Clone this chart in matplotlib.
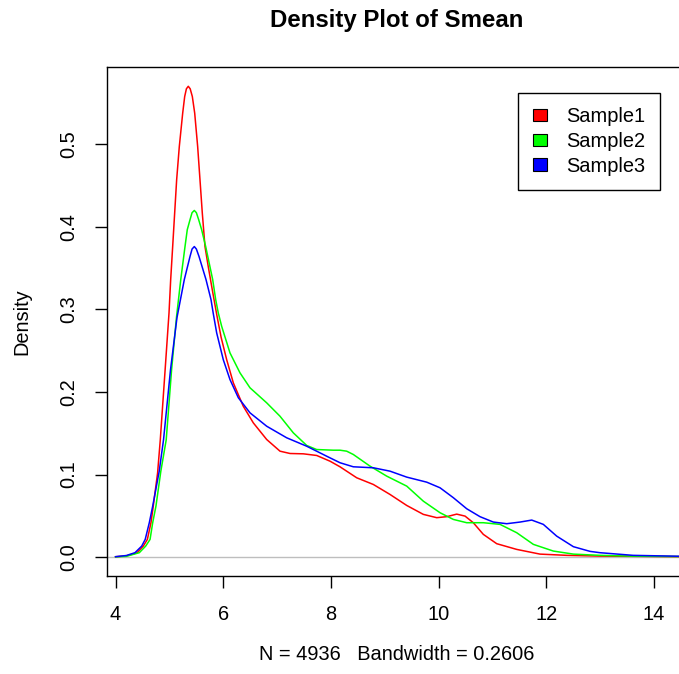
import matplotlib
matplotlib.use("Agg")
import matplotlib.pyplot as plt
from matplotlib.patches import Patch

plt.rcParams['font.family'] = ['Liberation Sans', 'DejaVu Sans']

# density curves
s1_x = [4.0, 4.2, 4.40, 4.515, 4.59, 4.657, 4.70, 4.78, 4.83, 4.92, 4.992, 5.023, 5.06,
        5.097, 5.134, 5.183, 5.246, 5.283, 5.315, 5.35, 5.385, 5.425, 5.469, 5.524,
        5.567, 5.610, 5.660, 5.72, 5.80, 5.88, 5.96, 6.063, 6.186, 6.371, 6.557, 6.806,
        7.053, 7.239, 7.486, 7.734, 7.981, 8.167, 8.477, 8.786, 9.096, 9.406, 9.714,
        9.963, 10.148, 10.334, 10.489, 10.642, 10.828, 11.077, 11.448, 11.88, 12.377,
        13.0, 14.7]
s1_y = [0.0005, 0.0015, 0.0054, 0.0134, 0.0215, 0.0417, 0.062, 0.102, 0.142, 0.227,
        0.2956, 0.336, 0.376, 0.4166, 0.457, 0.497, 0.5375, 0.5576, 0.567, 0.570,
        0.567, 0.5576, 0.5375, 0.497, 0.457, 0.4166, 0.376, 0.352, 0.322, 0.293,
        0.266, 0.239, 0.211, 0.1827, 0.1626, 0.1424, 0.1283, 0.1255, 0.1251, 0.1231,
        0.1162, 0.1094, 0.0961, 0.088, 0.0759, 0.0626, 0.0518, 0.0478, 0.049, 0.0521,
        0.0497, 0.0417, 0.0276, 0.0163, 0.0094, 0.0037, 0.0022, 0.0013, 0.0005]

s2_x = [4.0, 4.2, 4.44, 4.559, 4.64, 4.689, 4.75, 4.84, 4.94, 5.04, 5.13, 5.21, 5.289,
        5.331, 5.382, 5.42, 5.462, 5.50, 5.543, 5.598, 5.673, 5.803, 5.859, 5.907,
        5.970, 6.124, 6.310, 6.496, 6.806, 7.053, 7.300, 7.549, 7.734, 8.043, 8.167,
        8.291, 8.414, 8.724, 9.034, 9.406, 9.714, 10.024, 10.271, 10.52, 10.828,
        11.138, 11.448, 11.757, 12.128, 12.50, 12.995, 13.6, 14.7]
s2_y = [0.0004, 0.001, 0.0054, 0.0134, 0.0215, 0.0417, 0.062, 0.104, 0.142, 0.227,
        0.290, 0.336, 0.376, 0.3964, 0.4085, 0.417, 0.4197, 0.417, 0.4085, 0.3964,
        0.376, 0.336, 0.3117, 0.2956, 0.2794, 0.2473, 0.2231, 0.205, 0.1868, 0.1706,
        0.1505, 0.1352, 0.1303, 0.1295, 0.1295, 0.1283, 0.1243, 0.1102, 0.0981, 0.086,
        0.0678, 0.0538, 0.0457, 0.0417, 0.0417, 0.0397, 0.0296, 0.0155, 0.0074, 0.0037,
        0.0022, 0.0012, 0.0006]

s3_x = [4.0, 4.2, 4.36, 4.485, 4.55, 4.626, 4.69, 4.81, 4.89, 5.02, 5.14, 5.276, 5.382,
        5.42, 5.462, 5.50, 5.549, 5.679, 5.772, 5.812, 5.877, 6.0, 6.124, 6.279, 6.496,
        6.806, 7.177, 7.549, 7.920, 8.167, 8.414, 8.786, 9.096, 9.406, 9.777, 10.024,
        10.271, 10.52, 10.767, 11.014, 11.262, 11.51, 11.727, 11.942, 12.19, 12.50,
        12.81, 12.995, 13.61, 14.7]
s3_y = [0.0006, 0.002, 0.0054, 0.0134, 0.0215, 0.0417, 0.062, 0.104, 0.142, 0.227, 0.290,
        0.336, 0.364, 0.373, 0.376, 0.373, 0.364, 0.336, 0.3117, 0.2956, 0.2715, 0.239,
        0.215, 0.193, 0.1747, 0.1585, 0.1445, 0.1343, 0.1222, 0.1143, 0.1094, 0.1082,
        0.1041, 0.0969, 0.0908, 0.084, 0.072, 0.0586, 0.049, 0.0425, 0.0405, 0.0425,
        0.0449, 0.0397, 0.0255, 0.0127, 0.007, 0.0054, 0.0022, 0.0008]

labels = ['Sample1', 'Sample2', 'Sample3']
colors = ['#FF0000', '#00FF00', '#0000FF']
xticks = [4, 6, 8, 10, 12, 14]
yticks = [0.0, 0.1, 0.2, 0.3, 0.4, 0.5]

W, H = 679, 674
fig = plt.figure(figsize=(W / 100, H / 100), dpi=100)
# plot box runs off the right edge of the picture, as in the reference
ax = fig.add_axes([106.7 / W, (H - 576) / H, (687 - 106.7) / W, (576 - 67.3) / H])

ax.axhline(0, color='#BEBEBE', lw=1.0, zorder=1)
for xs, ys, c in zip([s1_x, s2_x, s3_x], [s1_y, s2_y, s3_y], colors):
    ax.plot(xs, ys, color=c, lw=1.1, zorder=2, solid_joinstyle='round')

ax.set_xlim(3.835, 14.61)
ax.set_ylim(-0.0228, 0.593)
ax.set_xticks(xticks)
ax.set_xticklabels([str(t) for t in xticks])
ax.set_yticks(yticks)
ax.set_yticklabels([f'{t:.1f}' for t in yticks], rotation=90, va='center')
ax.tick_params(direction='out', length=8.6, width=1, pad=12, labelsize=14.4, colors='black')
for sp in ax.spines.values():
    sp.set_linewidth(1)
    sp.set_color('black')

fig.text(397 / W, 1 - 20 / H, 'Density Plot of Smean', ha='center', va='center',
         fontsize=17.3, fontweight='bold')
fig.text(397 / W, 1 - 655 / H, 'N = 4936   Bandwidth = 0.2606', ha='center', va='center',
         fontsize=14.4)
fig.text(22 / W, 1 - 322 / H, 'Density', ha='center', va='center', rotation=90,
         fontsize=14.4)

handles = [Patch(facecolor=c, edgecolor='black', lw=0.8) for c in colors]
leg = ax.legend(handles, labels, loc='upper right',
                bbox_to_anchor=(660 / W, 1 - 92.7 / H), bbox_transform=fig.transFigure,
                borderaxespad=0, fontsize=14.4, handlelength=0.73, handleheight=0.58,
                handletextpad=0.95, labelspacing=0.29, borderpad=0.72,
                fancybox=False, framealpha=1, edgecolor='black')
leg.get_frame().set_linewidth(1)

fig.savefig('out.png', dpi=100)
